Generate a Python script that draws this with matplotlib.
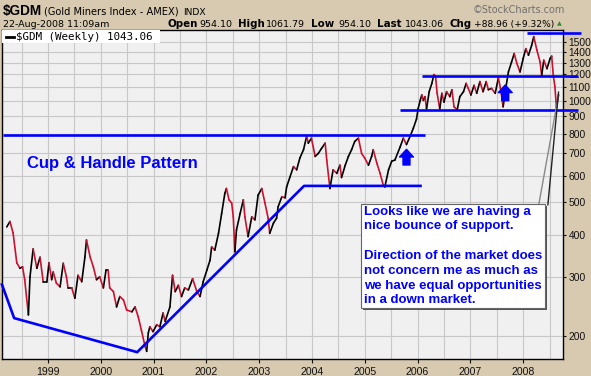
import matplotlib
matplotlib.use("Agg")
import matplotlib.pyplot as plt
import numpy as np
from matplotlib.collections import LineCollection
from matplotlib.patches import Rectangle
from matplotlib.ticker import FixedLocator, NullFormatter, FixedFormatter

# ---------------- data (fractional year, price) ----------------
dates = [1998.22, 1998.28, 1998.34, 1998.41, 1998.47, 1998.52, 1998.56, 1998.63, 1998.66, 1998.72,
         1998.79, 1998.85, 1998.91, 1998.98, 1999.02, 1999.07, 1999.10, 1999.16, 1999.23, 1999.29,
         1999.35, 1999.38, 1999.45, 1999.51, 1999.57, 1999.64, 1999.70, 1999.73, 1999.80, 1999.86,
         1999.92, 1999.98, 2000.05, 2000.10, 2000.14, 2000.17, 2000.24, 2000.30, 2000.36, 2000.43,
         2000.49, 2000.59, 2000.65, 2000.71, 2000.77, 2000.84, 2000.87, 2000.90, 2000.93, 2000.99,
         2001.06, 2001.12, 2001.18, 2001.22, 2001.31, 2001.36, 2001.41, 2001.47, 2001.53, 2001.59,
         2001.66, 2001.74, 2001.82, 2001.88, 2001.94, 2002.01, 2002.07, 2002.10, 2002.16, 2002.23,
         2002.29, 2002.35, 2002.38, 2002.43, 2002.48, 2002.51, 2002.54, 2002.57, 2002.64, 2002.70,
         2002.73, 2002.79, 2002.86, 2002.92, 2002.98, 2003.05, 2003.11, 2003.17, 2003.20, 2003.27,
         2003.33, 2003.36, 2003.43, 2003.49, 2003.52, 2003.58, 2003.65, 2003.71, 2003.77, 2003.84,
         2003.90, 2003.93, 2003.99, 2004.06, 2004.12, 2004.18, 2004.25, 2004.28, 2004.34, 2004.40,
         2004.47, 2004.53, 2004.56, 2004.63, 2004.69, 2004.75, 2004.81, 2004.88, 2004.94, 2005.00,
         2005.07, 2005.13, 2005.16, 2005.23, 2005.29, 2005.35, 2005.38, 2005.45, 2005.51, 2005.57,
         2005.67, 2005.73, 2005.79, 2005.86, 2005.92, 2005.98, 2006.01, 2006.05, 2006.08, 2006.11,
         2006.14, 2006.17, 2006.22, 2006.27, 2006.31, 2006.34, 2006.37, 2006.42, 2006.46, 2006.50,
         2006.55, 2006.61, 2006.65, 2006.69, 2006.75, 2006.80, 2006.87, 2006.92, 2006.96, 2007.01,
         2007.07, 2007.12, 2007.18, 2007.24, 2007.30, 2007.34, 2007.40, 2007.47, 2007.53, 2007.57,
         2007.62, 2007.67, 2007.72, 2007.78, 2007.83, 2007.88, 2007.94, 2008.00, 2008.05, 2008.10,
         2008.16, 2008.20, 2008.26, 2008.32, 2008.35, 2008.39, 2008.45, 2008.51, 2008.54, 2008.57,
         2008.60, 2008.63, 2008.67]
prices = [422, 438, 405, 330, 318, 321, 294, 231, 300, 363,
          318, 343, 290, 290, 330, 294, 310, 287, 280, 329,
          300, 278, 278, 259, 303, 290, 343, 386, 343, 321,
          294, 300, 278, 314, 314, 278, 271, 244, 262, 256,
          239, 236, 244, 228, 208, 186, 180, 204, 213, 206,
          216, 213, 234, 221, 244, 303, 271, 283, 262, 278,
          274, 296, 271, 262, 290, 314, 336, 368, 360, 404,
          463, 531, 549, 508, 497, 452, 356, 413, 463, 508,
          452, 395, 452, 443, 525, 549, 497, 448, 404, 433,
          448, 485, 519, 515, 555, 592, 638, 624, 676, 716,
          786, 749, 775, 684, 698, 722, 749, 667, 549, 624,
          609, 644, 592, 644, 684, 716, 758, 775, 698, 676,
          644, 684, 716, 652, 609, 562, 555, 624, 662, 667,
          730, 775, 742, 786, 830, 884, 948, 1004, 1042, 1004,
          1030, 948, 1066, 1128, 1198, 1185, 1054, 948, 1054, 992,
          1066, 1030, 1080, 961, 941, 1030, 1066, 1128, 1090, 1042,
          1113, 1054, 1142, 1066, 1142, 1080, 1090, 1054, 1171, 1090,
          961, 1090, 1220, 1306, 1384, 1293, 1220, 1338, 1431, 1368,
          1463, 1554, 1415, 1306, 1191, 1322, 1248, 1338, 1359, 1191,
          1105, 958, 1043]

# trend lines drawn on the chart
cup_trend_dates = [1998.12, 1998.36, 2000.69, 2003.85, 2006.08]
cup_trend_prices = [287, 226, 179, 559, 559]
cup_rim_dates = [1998.14, 2006.14]
cup_rim_prices = [794, 794]
range_top_dates = [2006.09, 2009.04]
range_top_prices = [1190, 1190]
range_low_dates = [2005.67, 2009.04]
range_low_prices = [941, 941]
peak_dates = [2008.07, 2009.09]
peak_prices = [1596, 1596]

arrow_dates = [2005.79, 2007.66]
arrow_tips = [718, 1116]
arrow_bases = [645, 1002]

year_ticks = list(range(1999, 2009))
price_ticks = [200, 300, 400, 500, 600, 700, 800, 900, 1000, 1100, 1200, 1300, 1400, 1500]

# ---------------- figure ----------------
W, H = 591, 376
BG = "#d8caB0"
fig = plt.figure(figsize=(W / 100, H / 100), dpi=100, facecolor=BG)
L, R, T, B = 2, 563, 30, 359
ax = fig.add_axes([L / W, 1 - B / H, (R - L) / W, (B - T) / H])
ax.set_facecolor("#f0f0f0")
ax.set_yscale("log")
ax.set_xlim(1998.13, 2008.754)
ax.set_ylim(170.8, 1626)

# grid / ticks
ax.yaxis.set_major_locator(FixedLocator(price_ticks))
ax.yaxis.set_minor_locator(FixedLocator([]))
ax.yaxis.set_major_formatter(FixedFormatter([str(v) for v in price_ticks]))
ax.yaxis.set_minor_formatter(NullFormatter())
ax.xaxis.set_major_locator(FixedLocator(year_ticks))
ax.xaxis.set_minor_locator(FixedLocator([yr + 0.5 for yr in range(1998, 2009)]))
ax.xaxis.set_major_formatter(FixedFormatter([str(yr) for yr in year_ticks]))
ax.grid(True, which="major", color="#c8c8c8", lw=0.8)
ax.grid(True, which="minor", axis="x", color="#c8c8c8", lw=0.8)
ax.set_axisbelow(True)
ax.yaxis.tick_right()
ax.tick_params(axis="y", which="major", length=2.5, width=0.8, pad=1.5, labelsize=7.4, colors="#111111")
ax.tick_params(axis="x", which="major", length=3, width=0.8, pad=3, labelsize=7.6, colors="#111111")
ax.tick_params(axis="x", which="minor", length=0)
for lab in ax.get_xticklabels() + ax.get_yticklabels():
    lab.set_family("Liberation Sans")
for sp in ax.spines.values():
    sp.set_color("#000000")
    sp.set_linewidth(1.0)

# price line coloured by direction
x = np.array(dates)
y = np.array(prices, dtype=float)
segs = [[(x[i], y[i]), (x[i + 1], y[i + 1])] for i in range(len(x) - 1)]
cols = ["#000000" if y[i + 1] >= y[i] else "#cc1030" for i in range(len(x) - 1)]
ax.add_collection(LineCollection(segs, colors=cols, linewidths=1.2, zorder=3, capstyle="round"))

# trend lines
blue = "#0000ff"
for dx, py in [(cup_trend_dates, cup_trend_prices), (cup_rim_dates, cup_rim_prices),
               (range_top_dates, range_top_prices), (range_low_dates, range_low_prices),
               (peak_dates, peak_prices)]:
    ax.plot(dx, py, color=blue, lw=1.9, zorder=4, clip_on=False, solid_capstyle="butt")

# arrows
for ad, at, ab in zip(arrow_dates, arrow_tips, arrow_bases):
    ax.annotate("", xy=(ad, at), xytext=(ad, ab),
                arrowprops=dict(arrowstyle="simple,head_length=0.55,head_width=1.0,tail_width=0.5",
                                color=blue, shrinkA=0, shrinkB=0), zorder=5)

# pattern label
ax.text(0.045, 0.595, "Cup & Handle Pattern", transform=ax.transAxes, color=blue,
        fontsize=12, family="Liberation Sans", fontweight="bold", va="center", ha="left", zorder=6)

# callout pointer
last = (dates[-1], prices[-1])
ax.annotate("", xy=last, xycoords="data", xytext=(0.957, 0.471), textcoords="axes fraction",
            arrowprops=dict(arrowstyle="-", color="#888888", lw=1.0, shrinkA=0, shrinkB=0), zorder=6)
ax.annotate("", xy=(last[0], last[1] * 1.02), xycoords="data", xytext=(0.973, 0.468), textcoords="axes fraction",
            arrowprops=dict(arrowstyle="-", color="#222222", lw=1.0, shrinkA=0, shrinkB=0), zorder=6)

# callout box
bx0, by0, bw, bh = 359 / 561, 51 / 329, 184 / 561, 104 / 329
ax.add_patch(Rectangle((bx0 + 2 / 561, by0 - 2 / 329), bw, bh, transform=ax.transAxes,
                       facecolor="#555555", edgecolor="none", zorder=7, clip_on=False))
ax.add_patch(Rectangle((bx0, by0), bw, bh, transform=ax.transAxes,
                       facecolor="white", edgecolor="#666666", lw=0.8, zorder=8, clip_on=False))
note_lines = ["Looks like we are having a", "nice bounce of support.", "",
              "Direction of the market does", "not concern me as much as",
              "we have equal opportunities", "in a down market."]
for i, line in enumerate(note_lines):
    ypx = 214.5 + i * 14.8
    ax.text(362 / 561, (359 - ypx) / 329, line, transform=ax.transAxes,
            color=blue, fontsize=9.5, family="Liberation Sans", fontweight="bold",
            va="baseline", ha="left", zorder=9)

# legend box
ax.add_patch(Rectangle((0, 1 - 13 / 329), 158 / 561, 13 / 329, transform=ax.transAxes,
                       facecolor="white", edgecolor="none", zorder=7))
ax.plot([4 / 561, 12 / 561], [1 - 6.7 / 329] * 2, transform=ax.transAxes, color="black", lw=2, zorder=8)
ax.text(14.5 / 561, 1 - 7 / 329, "$GDM (Weekly) 1043.06", transform=ax.transAxes,
        fontsize=7.8, family="DejaVu Sans Mono", va="center", ha="left", zorder=8)

# header
def ft(px, py, s, **kw):
    fig.text(px / W, 1 - py / H, s, va="baseline", ha="left", **kw)

ft(3, 15, "$GDM", fontsize=9.8, fontweight="bold", family="Liberation Sans")
ft(44, 15, "(Gold Miners Index - AMEX)", fontsize=7.1, family="DejaVu Sans")
ft(183, 15, "INDX", fontsize=6.6, family="DejaVu Sans")
ft(3, 27, "22-Aug-2008 11:09am", fontsize=6.8, family="DejaVu Sans")
ft(168, 27, "Open", fontsize=7.4, fontweight="bold", family="DejaVu Sans")
ft(199, 27, "954.10", fontsize=6.8, family="DejaVu Sans")
ft(238, 27, "High", fontsize=7.4, fontweight="bold", family="DejaVu Sans")
ft(266, 27, "1061.79", fontsize=6.8, family="DejaVu Sans")
ft(311, 27, "Low", fontsize=7.4, fontweight="bold", family="DejaVu Sans")
ft(338, 27, "954.10", fontsize=6.8, family="DejaVu Sans")
ft(377, 27, "Last", fontsize=7.4, fontweight="bold", family="DejaVu Sans")
ft(405, 27, "1043.06", fontsize=6.8, family="DejaVu Sans")
ft(449, 27, "Chg", fontsize=7.4, fontweight="bold", family="DejaVu Sans")
ft(474, 27, "+88.96 (+9.32%)", fontsize=6.6, family="DejaVu Sans")
ft(557, 25.5, "\u25B2", fontsize=4.5, color="#2e8b2e", family="DejaVu Sans")
ft(473, 13, "\u00A9StockCharts.com", fontsize=7.0, color="#707070", family="DejaVu Sans")

fig.savefig("out.png", dpi=100, facecolor=BG)
